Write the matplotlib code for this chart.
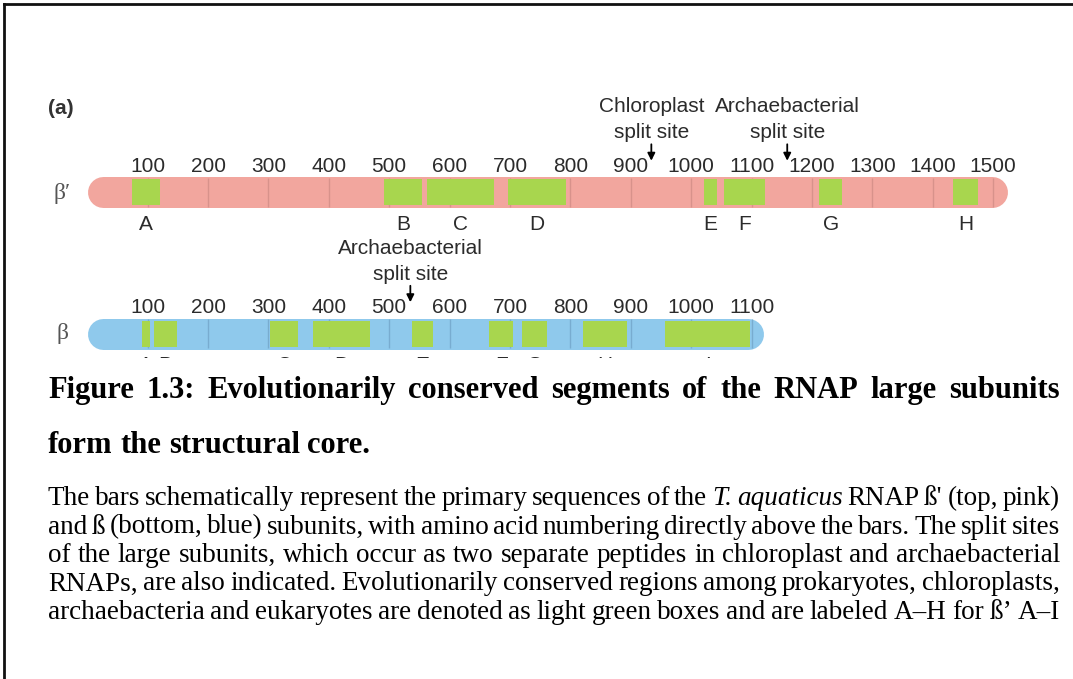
import matplotlib.pyplot as plt
from matplotlib.lines import Line2D

# -------------------------
# Data (residue numbers)
# -------------------------
bp_length = 1524
b_length = 1119

bp_ticks = [100, 200, 300, 400, 500, 600, 700, 800, 900, 1000, 1100, 1200, 1300, 1400, 1500]
b_ticks = [100, 200, 300, 400, 500, 600, 700, 800, 900, 1000, 1100]

bp_regions = ["A", "B", "C", "D", "E", "F", "G", "H"]
bp_starts = [74, 492, 563, 697, 1021, 1055, 1212, 1434]
bp_ends = [120, 555, 674, 793, 1043, 1122, 1250, 1475]

b_regions = ["A", "B", "C", "D", "E", "F", "G", "H", "I"]
b_starts = [91, 111, 303, 374, 537, 666, 720, 821, 957]
b_ends = [104, 149, 349, 469, 573, 705, 762, 894, 1098]

bp_splits = [934, 1159]
bp_split_names = ["Chloroplast", "Archaebacterial"]
b_splits = [535]
b_split_names = ["Archaebacterial"]

caption_lines = [
    "Figure 1.3: Evolutionarily conserved segments of the RNAP large subunits",
    "form the structural core.",
]
body_lines = [
    "The bars schematically represent the primary sequences of the _T._ _aquaticus_ RNAP ß' (top, pink)",
    "and ß (bottom, blue) subunits, with amino acid numbering directly above the bars. The split sites",
    "of the large subunits, which occur as two separate peptides in chloroplast and archaebacterial",
    "RNAPs, are also indicated. Evolutionarily conserved regions among prokaryotes, chloroplasts,",
    "archaebacteria and eukaryotes are denoted as light green boxes and are labeled A–H for ß’ A–I",
]

# -------------------------
# Layout
# -------------------------
W, H = 1073, 679
RES0_PX = 87.2        # pixel x of residue 0
PX_PER_RES = 0.604
DIAG_TOP, DIAG_BOT = 80, 358
BAR_H = 31

PINK, BLUE, GREEN = "#f2a69e", "#8fc9ec", "#a8d64e"
PINK_GRID, BLUE_GRID = "#d8928b", "#78acd0"
LABEL_COLOR = "#2b2b2b"
SANS = "Liberation Sans"
SERIF = "Liberation Serif"

fig = plt.figure(figsize=(W / 100, H / 100), dpi=100)

page = fig.add_axes([0, 0, 1, 1])
page.set_xlim(0, W)
page.set_ylim(H, 0)
page.axis("off")

ax = fig.add_axes([RES0_PX / W, 1 - DIAG_BOT / H, 1600 * PX_PER_RES / W, (DIAG_BOT - DIAG_TOP) / H])
ax.set_xlim(0, 1600)
ax.set_ylim(DIAG_BOT, DIAG_TOP)
ax.axis("off")


def draw_subunit(yc, length, color, grid_color, ticks, names, starts, ends, splits, split_names):
    top = yc - BAR_H / 2
    cap = (BAR_H / 2) / PX_PER_RES
    ax.plot([1 + cap, length - cap], [yc, yc], color=color, lw=BAR_H * 0.72,
            solid_capstyle="round", zorder=1)
    grid = [t for t in ticks if t < length]
    ax.vlines(grid, top + 1, top + BAR_H - 1, color=grid_color, lw=1, zorder=2)
    widths = [e - s for s, e in zip(starts, ends)]
    ax.barh([yc] * len(starts), widths, left=starts, height=BAR_H - 5, color=GREEN, zorder=3)
    for t in ticks:
        ax.text(t, top - 5, str(t), ha="center", va="baseline", fontsize=15,
                color=LABEL_COLOR, family=SANS, clip_on=False)
    for n, s, e in zip(names, starts, ends):
        ax.text((s + e) / 2, top + BAR_H + 7, n, ha="center", va="top", fontsize=15,
                color=LABEL_COLOR, family=SANS, clip_on=True)
    for x, name in zip(splits, split_names):
        ax.annotate("", xy=(x, top - 13), xytext=(x, top - 35),
                    arrowprops=dict(arrowstyle="-|>", color="k", lw=1.3, mutation_scale=11))
        ax.text(x, top - 64, name, ha="center", va="baseline", fontsize=15,
                color=LABEL_COLOR, family=SANS)
        ax.text(x, top - 38, "split site", ha="center", va="baseline", fontsize=15,
                color=LABEL_COLOR, family=SANS)


draw_subunit(192, bp_length, PINK, PINK_GRID, bp_ticks, bp_regions, bp_starts, bp_ends,
             bp_splits, bp_split_names)
draw_subunit(333.5, b_length, BLUE, BLUE_GRID, b_ticks, b_regions, b_starts, b_ends,
             b_splits, b_split_names)

page.text(61, 108, "(a)", ha="center", va="center", fontsize=15, fontweight="bold",
          family=SANS, color="#333333")
page.text(62, 193, "β′", ha="center", va="center", fontsize=17, family=SERIF, color="#555555")
page.text(62, 334, "β", ha="center", va="center", fontsize=17, family=SERIF, color="#555555")

# -------------------------
# Caption text, justified word by word
# -------------------------
renderer = fig.canvas.get_renderer()


def draw_line(line, y, x0, x1, size, weight, justify=True):
    arts = []
    for tok in line.split(" "):
        style = "normal"
        if tok.startswith("_") and tok.endswith("_"):
            tok, style = tok[1:-1], "italic"
        arts.append(page.text(x0, y, tok, fontsize=size, fontweight=weight, fontstyle=style,
                              family=SERIF, va="baseline", ha="left", color="black"))
    widths = [a.get_window_extent(renderer).width for a in arts]
    if justify and len(arts) > 1:
        gap = (x1 - x0 - sum(widths)) / (len(arts) - 1)
    else:
        gap = size * 100 / 72 * 0.25
    x = x0
    for a, w in zip(arts, widths):
        a.set_x(x)
        x += w + gap


draw_line(caption_lines[0], 398, 48, 1060, 22, "bold")
draw_line(caption_lines[1], 453, 48, 1060, 22, "bold", justify=False)
for i, line in enumerate(body_lines):
    draw_line(line, 505 + i * 28.5, 48, 1060, 19.5, "normal")

# page border
fig.add_artist(Line2D([4 / W, 4 / W], [0, 1 - 4 / H], transform=fig.transFigure, color="#111111", lw=2))
fig.add_artist(Line2D([4 / W, 1], [1 - 4 / H, 1 - 4 / H], transform=fig.transFigure, color="#111111", lw=2))

fig.savefig("out.png", dpi=100)
